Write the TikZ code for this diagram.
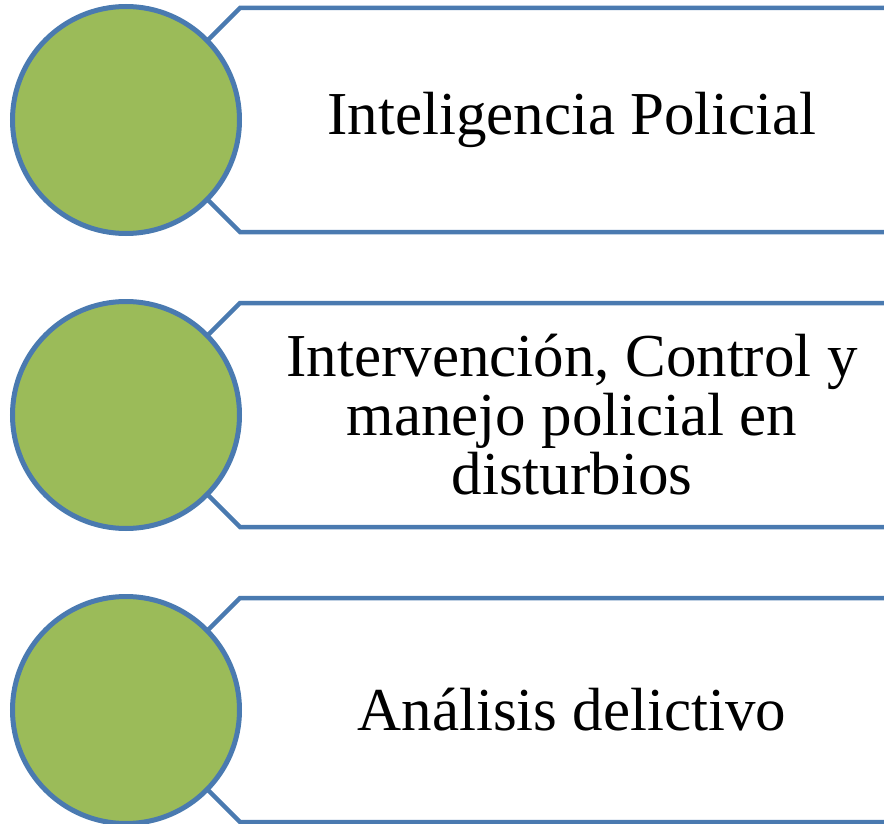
\documentclass[tikz,border=0pt]{standalone}
\usepackage{fontspec}
\setmainfont{Liberation Serif}
\definecolor{bandblue}{HTML}{4A7AB0}
\definecolor{dotgreen}{HTML}{9BBB59}
\tikzset{
  band/.style={draw=bandblue, line width=4.5pt, line join=miter},
  dot/.style={circle, draw=bandblue, line width=5pt, fill=dotgreen,
    minimum size=227pt, inner sep=0pt},
  itemtext/.style={align=center, font=\fontsize{61}{59}\selectfont}
}

\begin{document}
\begin{tikzpicture}[x=1pt,y=-1pt]
  \useasboundingbox (0,0) rectangle (884,824);
  \foreach \i/\txt in {0/{Inteligencia Policial},
      1/{Intervención, Control y\\manejo policial en\\disturbios},
      2/{Análisis delictivo}}{
    \pgfmathsetmacro\yy{120+295*\i}
    \coordinate (tl\i) at (240,\yy-112);
    \coordinate (bl\i) at (240,\yy+112);
    \coordinate (tip\i) at (128,\yy);
    \draw[band] (tl\i -| 890,0) -- (tl\i) -- (tip\i) -- (bl\i) -- (bl\i -| 890,0);
    \node[dot] (circ\i) at (126,\yy) {};
    \node[itemtext] (txt\i) at (572,\yy) {\txt};
  }
\end{tikzpicture}
\end{document}
